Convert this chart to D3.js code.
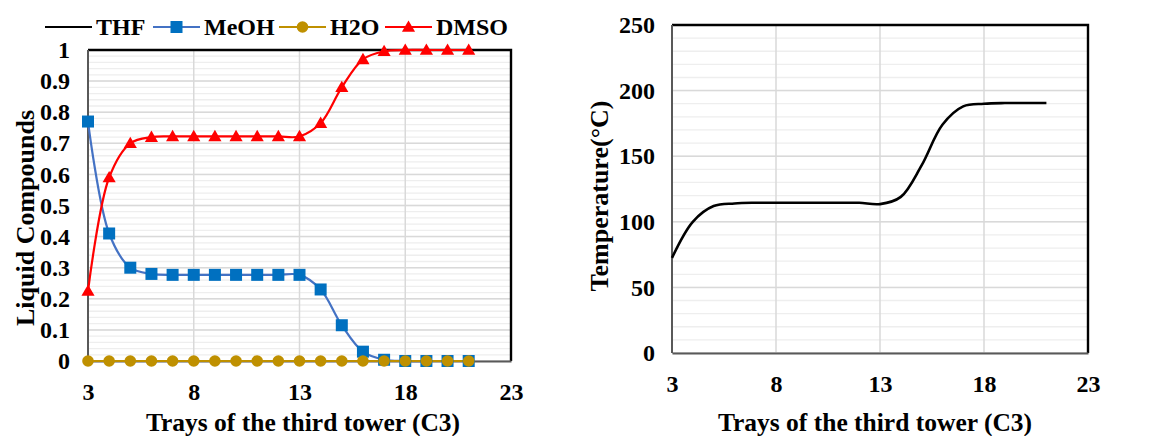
<!DOCTYPE html>
<html><head><meta charset="utf-8">
<script src="https://cdn.jsdelivr.net/npm/d3@7"></script>
<style>body{margin:0;background:#fff}svg{display:block}text{font-family:"Liberation Serif","Times New Roman",serif;font-weight:bold;fill:#000}</style>
</head><body><svg id="c" width="1149" height="436"></svg>
<script>
const trays = [3,4,5,6,7,8,9,10,11,12,13,14,15,16,17,18,19,20,21];
const thf  = [0,0,0,0,0,0,0,0,0,0,0,0,0,0,0,0,0,0,0];
const meoh = [0.77,0.41,0.30,0.28,0.277,0.277,0.277,0.277,0.277,0.277,0.277,0.23,0.115,0.03,0.004,0,0,0,0];
const h2o  = [0,0,0,0,0,0,0,0,0,0,0,0,0,0,0,0,0,0,0];
const dmso = [0.225,0.59,0.70,0.72,0.722,0.722,0.722,0.722,0.722,0.722,0.722,0.765,0.88,0.97,0.996,1,1,1,1];
const temp = [72.5,100,112,114,114.5,114.5,114.5,114.5,114.5,114.5,113.5,119,143,174,188,190,190.5,190.5,190.5];
const xTicks = [3,8,13,18,23];
const yTicksL = [0,0.1,0.2,0.3,0.4,0.5,0.6,0.7,0.8,0.9,1];
const yTicksR = [0,50,100,150,200,250];
const legendNames = ["THF","MeOH","H2O","DMSO"];
const colors = {THF:"#000000",MeOH:"#4472C4",H2O:"#BF9000",DMSO:"#FF0000"};
const markerColors = {THF:"#000000",MeOH:"#0070C0",H2O:"#BF9000",DMSO:"#FF0000"};

const svg = d3.select("#c");

function panel(o){
  const g = svg.append("g");
  const x = d3.scaleLinear().domain([3,23]).range([o.l,o.r]);
  const y = d3.scaleLinear().domain(o.yd).range([o.b,o.t]);
  const minor = d3.range(o.yd[0], o.yd[1]+1e-9, o.minorStep);
  g.selectAll(".mn").data(minor).join("line")
    .attr("x1",o.l).attr("x2",o.r).attr("y1",d=>y(d)).attr("y2",d=>y(d))
    .attr("stroke","#eeeeee").attr("stroke-width",1.3);
  g.selectAll(".mj").data(o.yt).join("line")
    .attr("x1",o.l).attr("x2",o.r).attr("y1",d=>y(d)).attr("y2",d=>y(d))
    .attr("stroke","#d9d9d9").attr("stroke-width",1.5);
  g.selectAll(".vx").data(xTicks.slice(1,-1)).join("line")
    .attr("x1",d=>x(d)).attr("x2",d=>x(d)).attr("y1",o.t).attr("y2",o.b)
    .attr("stroke","#d9d9d9").attr("stroke-width",1.5);
  g.append("path").attr("d",`M${o.l},${o.t}H${o.r}V${o.b}`)
    .attr("fill","none").attr("stroke","#000").attr("stroke-width",2.4);
  g.append("line").attr("x1",o.l).attr("x2",o.l).attr("y1",o.t).attr("y2",o.b)
    .attr("stroke","#595959").attr("stroke-width",2);
  const ax = g.append("g").attr("transform",`translate(0,${o.b})`)
    .call(d3.axisBottom(x).tickValues(xTicks).tickSize(0).tickPadding(22).tickFormat(d3.format("d")));
  ax.select(".domain").attr("stroke","#595959").attr("stroke-width",1.8);
  ax.selectAll("text").style("font-size","24px").style("font-family","Liberation Serif");
  const ay = g.append("g").attr("transform",`translate(${o.l},0)`)
    .call(d3.axisLeft(y).tickValues(o.yt).tickSize(0).tickPadding(o.ypad).tickFormat(o.yf));
  ay.select(".domain").remove();
  ay.selectAll("text").style("font-size","24px").style("font-family","Liberation Serif");
  g.append("text").attr("x",o.tx).attr("y",431).attr("text-anchor","middle")
    .style("font-size","25.5px").text("Trays of the third tower (C3)");
  g.append("text").attr("transform",`translate(${o.yx},${o.ty}) rotate(-90)`).attr("text-anchor","middle")
    .style("font-size","26px").text(o.ytitle);
  return {g,x,y};
}

const L = panel({l:88,r:511,t:50,b:361,yd:[0,1],yt:yTicksL,minorStep:0.02,ypad:18,tx:303,
  yf:d=>d===0?"0":d===1?"1":d3.format(".1f")(d),yx:34,ty:218,ytitle:"Liquid Compounds"});
const series = [["THF",thf],["MeOH",meoh],["H2O",h2o],["DMSO",dmso]];
const lineL = d3.line().x((d,i)=>L.x(trays[i])).y(d=>L.y(d)).curve(d3.curveCatmullRom);
["THF","MeOH","DMSO","H2O"].forEach(n=>{
  const v = series.find(s=>s[0]===n)[1];
  L.g.append("path").datum(v).attr("d",lineL).attr("fill","none").attr("stroke",colors[n]).attr("stroke-width",2.2);
});
function marker(g,n,cx,cy){
  if(n==="MeOH") g.append("rect").attr("x",cx-6).attr("y",cy-6).attr("width",12).attr("height",12).attr("fill",markerColors[n]);
  else if(n==="H2O") g.append("circle").attr("cx",cx).attr("cy",cy).attr("r",5.8).attr("fill",markerColors[n]);
  else if(n==="DMSO") g.append("path").attr("d",d3.symbol(d3.symbolTriangle,75)()).attr("transform",`translate(${cx},${cy+1})`).attr("fill",markerColors[n]);
}
["MeOH","DMSO","H2O"].forEach(n=>{
  const v = series.find(s=>s[0]===n)[1];
  v.forEach((d,i)=>marker(L.g,n,L.x(trays[i]),L.y(d)));
});
const lg = svg.append("g");
const legX = [45,153,279,385];
legendNames.forEach((n,i)=>{
  const x0 = legX[i];
  lg.append("line").attr("x1",x0).attr("x2",x0+47).attr("y1",27).attr("y2",27).attr("stroke",colors[n]).attr("stroke-width",2.2);
  marker(lg,n,x0+23.5,27);
  lg.append("text").attr("x",x0+51).attr("y",35).style("font-size","24px").text(n);
});

const R = panel({l:672,r:1088,t:25,b:353,yd:[0,250],yt:yTicksR,minorStep:10,ypad:17,tx:875,
  yf:d3.format("d"),yx:608,ty:196,ytitle:"Temperature(°C)"});
const lineR = d3.line().x((d,i)=>R.x(trays[i])).y(d=>R.y(d)).curve(d3.curveCatmullRom);
R.g.append("path").datum(temp).attr("d",lineR).attr("fill","none").attr("stroke","#000").attr("stroke-width",2.6);
</script></body></html>
